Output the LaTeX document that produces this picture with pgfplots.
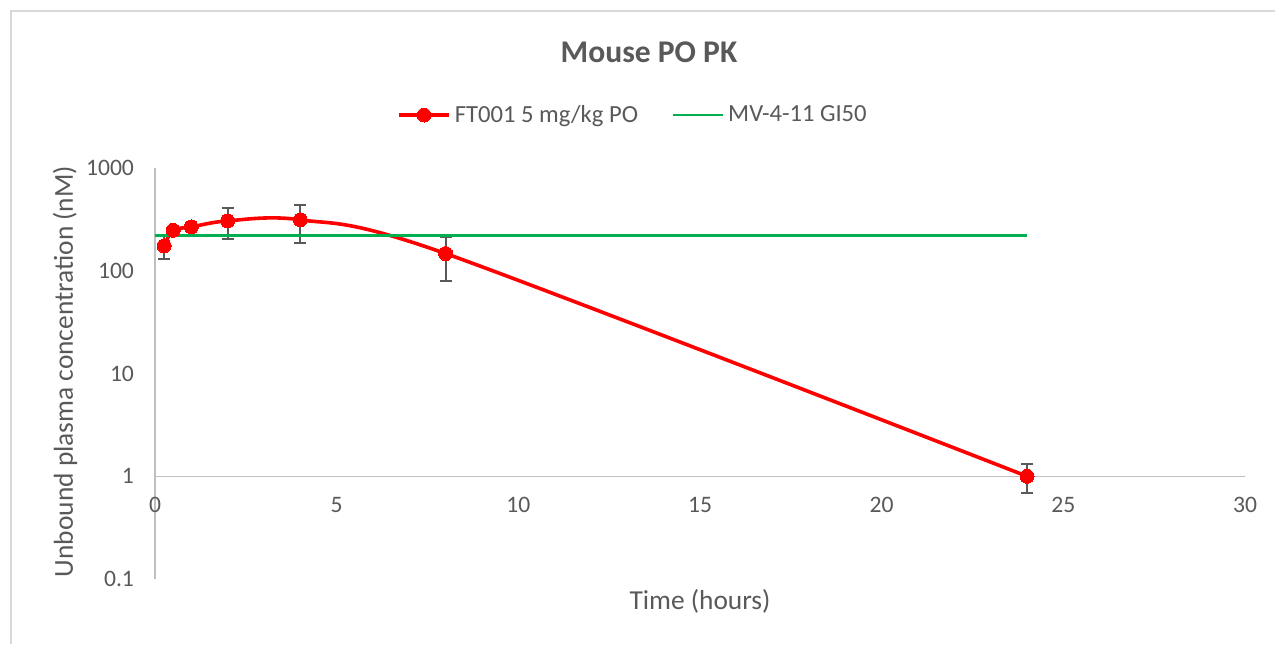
\documentclass[border=0pt]{standalone}
\usepackage{pgfplots}
\pgfplotsset{compat=1.18}
\usepackage{fontspec}
\setmainfont{Carlito}
\definecolor{txt}{HTML}{595959}
\definecolor{axgray}{HTML}{BFBFBF}
\definecolor{exred}{HTML}{FF0000}
\definecolor{exgreen}{HTML}{00B050}
\definecolor{bordergray}{HTML}{D9D9D9}
\begin{document}
\begin{tikzpicture}
\useasboundingbox (0,0) rectangle (637.5pt,322pt);
\draw[bordergray, line width=1pt] (5.5pt,0) -- (5.5pt,316.25pt) -- (637.5pt,316.25pt);
\begin{axis}[
  at={(77.5pt,32.5pt)}, anchor=south west,
  scale only axis, width=545pt, height=205.5pt,
  xmin=0, xmax=30, ymin=0.1, ymax=1000, ymode=log,
  axis x line=middle, axis y line=left,
  axis line style={axgray, line width=0.75pt, -},
  hide obscured x ticks=false,
  xtick={0,5,10,15,20,25,30}, xticklabels={0,5,10,15,20,25,30},
  ytick={0.1,1,10,100,1000}, yticklabels={0.1,1,10,100,1000},
  major tick length=0pt, minor tick length=0pt, yminorticks=false,
  /pgf/number format/assume math mode=true,
  ticklabel style={font=\fontsize{11.8}{14}\selectfont, text=txt},
  yticklabel style={anchor=east, xshift=-7pt},
  xticklabel style={anchor=north, yshift=-7pt},
  legend columns=2,
  legend cell align=left,
  legend style={at={(0.4394,1.129)}, anchor=center, draw=none, fill=none,
    font=\fontsize{12.3}{15}\selectfont, text=txt,
    nodes={inner xsep=2pt},
    /tikz/every even column/.append style={column sep=15pt}},
  legend image code/.code={\draw[mark repeat=2,mark phase=2] plot coordinates {(0pt,0pt) (12.5pt,0pt) (25pt,0pt)};},
  clip=false,
]
% error bars (drawn beneath the markers)
\addplot[draw=none, mark=none, forget plot,
  error bars/.cd, y dir=both, y explicit,
  error bar style={txt, line width=1pt, solid},
  error mark options={txt, line width=1pt, mark size=3pt, rotate=90}]
  coordinates {
  (0.25,175) +- (0,44)
  (0.5,248) +- (0,20)
  (1,267) +- (0,25)
  (2,306) +- (0,100)
  (4,313) +- (0,128)
  (8,147) +- (0,67)
  (24,1.0) +- (0,0.32)
  };
\addplot[exred, line width=1.8pt, smooth, mark=*, mark size=3.5pt,
  mark options={fill=exred, draw=exred, line width=0pt}]
  coordinates {
  (0.25,175)
  (0.5,248)
  (1,267)
  (2,306)
  (4,313)
  (8,147)
  (24,1.0)
  };
\addlegendentry{FT001 5 mg/kg PO}
\addplot[exgreen, line width=1.1pt] coordinates {(0,220) (24,220)};
\addlegendentry{MV-4-11 GI50}
\end{axis}
\node[font=\bfseries\fontsize{15.8}{18}\selectfont, text=txt] at (324.5pt,296pt) {Mouse PO PK};
\node[font=\fontsize{13.7}{16}\selectfont, text=txt] at (350pt,21.5pt) {Time (hours)};
\node[font=\fontsize{13.7}{16}\selectfont, text=txt, rotate=90] at (32.5pt,136.25pt) {Unbound plasma concentration (nM)};
\end{tikzpicture}
\end{document}
